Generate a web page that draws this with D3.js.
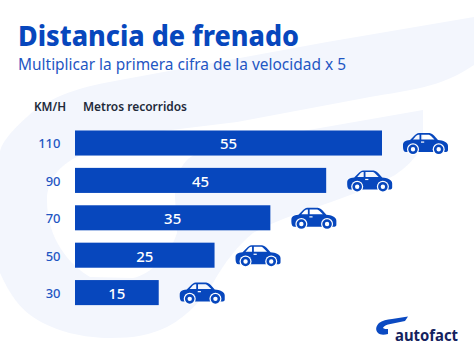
<!DOCTYPE html>
<html>
<head>
<meta charset="utf-8">
<script src="https://cdn.jsdelivr.net/npm/d3@7"></script>
<style>
	html, body { margin: 0; padding: 0; background: #fff; }
	svg { display: block; }
	text { font-family: "Noto Sans", sans-serif; }
</style>
</head>
<body>
<div id="chart"></div>
<script>
const speeds = ["110", "90", "70", "50", "30"];
const meters = [55, 45, 35, 25, 15];

const width = 474, height = 354;
const blue = "#0747bd";

const svg = d3.select("#chart").append("svg")
	.attr("width", width)
	.attr("height", height)
	.attr("viewBox", `0 0 ${width} ${height}`);

// watermark swoosh behind the chart, the hole is cut with evenodd
svg.append("path")
	.attr("fill", "#f3f6fd")
	.attr("fill-rule", "evenodd")
	.attr("d", "M474,17 L327,42 L120,80 C85,86 50,95 27,117 C10,132 0,145 0,153 L0,273 C10,295 20,308 33,317 C55,332 85,338 110,338 C135,338 150,335 167,327 C190,315 205,295 213,283 C225,262 238,245 253,233 C290,212 350,200 395,175 C410,165 423,150 423,140 L423,110 L320,128 L240,142 C215,147 195,152 187,160 C177,170 175,185 175,197 L177,233 C170,255 150,275 133,278 L90,277 C70,265 47,240 47,200 C47,180 60,165 77,157 C95,145 115,138 130,135 L237,122 L370,97 C410,90 440,88 474,65 Z");

svg.append("text").attr("x", 18).attr("y", 45.5)
	.attr("font-size", 29).attr("font-weight", 800).attr("fill", blue)
	.attr("textLength", 281).attr("lengthAdjust", "spacingAndGlyphs")
	.text("Distancia de frenado");
svg.append("text").attr("x", 18).attr("y", 69.5)
	.attr("font-size", 17).attr("fill", "#1f56c3")
	.attr("textLength", 328).attr("lengthAdjust", "spacingAndGlyphs")
	.text("Multiplicar la primera cifra de la velocidad x 5");

svg.append("text").attr("x", 34).attr("y", 111)
	.attr("font-size", 13).attr("font-weight", 600).attr("fill", "#222a3a")
	.attr("textLength", 32).attr("lengthAdjust", "spacingAndGlyphs")
	.text("KM/H");
svg.append("text").attr("x", 83).attr("y", 111)
	.attr("font-size", 13).attr("font-weight", 600).attr("fill", "#222a3a")
	.attr("textLength", 104).attr("lengthAdjust", "spacingAndGlyphs")
	.text("Metros recorridos");

let x = d3.scaleLinear().domain([0, 55]).range([75, 382]);
let y = d3.scaleBand().domain(speeds).range([124.5, 311.1]).paddingInner(0.33).paddingOuter(0.16);

svg.append("g")
	.attr("transform", "translate(60.5, 1.2)")
	.call(d3.axisLeft(y).tickSize(0).tickPadding(0))
	.call(g => g.select(".domain").remove())
	.selectAll("text")
	.attr("font-size", 13)
	.attr("font-weight", 500)
	.attr("fill", "#1f56c3")
	.style("font-family", '"Noto Sans", sans-serif');

let rows = svg.selectAll(".row")
	.data(speeds)
	.enter().append("g")
	.attr("class", "row");

rows.append("rect")
	.attr("x", x(0))
	.attr("y", d => y(d))
	.attr("width", (d, i) => x(meters[i]) - x(0))
	.attr("height", y.bandwidth())
	.attr("fill", blue);

rows.append("text")
	.attr("x", (d, i) => (x(0) + x(meters[i])) / 2)
	.attr("y", d => y(d) + y.bandwidth() / 2 + 1)
	.attr("dy", "0.36em")
	.attr("text-anchor", "middle")
	.attr("font-size", 15)
	.attr("font-weight", 500)
	.attr("fill", "#fff")
	.text((d, i) => meters[i]);

// car icon, drawn in a 45x21 box
let car = rows.append("g")
	.attr("transform", (d, i) => `translate(${x(meters[i]) + 21}, ${y(d) + 2.5})`);
car.append("path")
	.attr("fill", blue)
	.attr("fill-rule", "evenodd")
	.attr("d", "M0,12 C0,9 2,7.5 7,7 L12,2 C14,0.3 15,0 18,0 L25,0 C27,0 29,0.6 31,2.5 L35,7 C40,7.5 45,9 45,13 L45,17 C45,18.5 44,19 42,19 L3,19 C1,19 0,17 0,14 Z M10,6.5 L16.5,6.5 L16.5,1.7 C15,1.7 14,2 13,3 Z M18.3,1.7 L18.3,6.5 L31.5,6.5 L28,3 C27,2 26,1.7 25,1.7 Z");
car.append("rect")
	.attr("x", 18).attr("y", 8.5).attr("width", 3.2).attr("height", 1.2)
	.attr("fill", "#fff");
car.selectAll("circle.gap")
	.data([10, 35.7])
	.enter().append("circle")
	.attr("class", "gap")
	.attr("cx", d => d).attr("cy", 16.3).attr("r", 6)
	.attr("fill", "#fff");
car.selectAll("circle.wheel")
	.data([10, 35.7])
	.enter().append("circle")
	.attr("class", "wheel")
	.attr("cx", d => d).attr("cy", 16.3).attr("r", 3.5)
	.attr("fill", "#fff").attr("stroke", blue).attr("stroke-width", 2.6);

// logo
let logo = svg.append("g");
logo.append("path")
	.attr("fill", "#0b4ac2")
	.attr("d", "M408,316.5 L405,321 L388,324.5 C385,325.5 383,327 383,328 C384,329 386,329 388,329 L388,334 C384,335 380,335 378,333 C375,330 376,326 379,323 C382,320.5 387,319.5 392,319 Z");
logo.append("text").attr("x", 395).attr("y", 341)
	.attr("font-size", 16).attr("font-weight", 700).attr("fill", "#14225e")
	.attr("textLength", 63).attr("lengthAdjust", "spacingAndGlyphs")
	.text("autofact");
</script>
</body>
</html>
